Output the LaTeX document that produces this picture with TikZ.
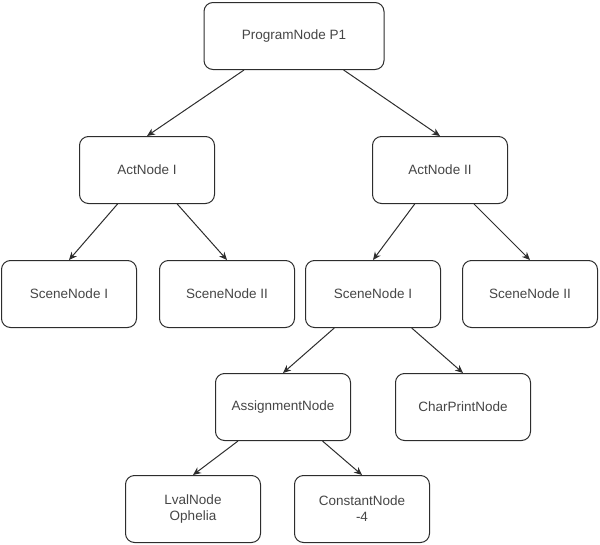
\documentclass[tikz,border=0pt]{standalone}
\usepackage{fontspec}
\setmainfont{Liberation Sans}
\usepackage{xcolor}
\usepackage{tikz}
\usetikzlibrary{arrows.meta, positioning}
\definecolor{astline}{RGB}{45, 45, 45}
\definecolor{asttext}{RGB}{70, 70, 70}

\begin{document}
\begin{tikzpicture}[
    x=1pt, y=1pt,
    astnode/.style={rectangle, rounded corners=9pt, draw=astline, fill=white, line width=1pt, minimum width=135pt, minimum height=67pt, align=center, text=asttext, font=\fontsize{13.5}{16}\selectfont},
    rootnode/.style={astnode, minimum width=180pt},
    arr/.style={-{Stealth[length=8pt, width=7pt]}, line width=1pt, draw=astline}
]
\useasboundingbox (0,0) rectangle (600,-544);

% Program
\node[rootnode] (prog) at (294,-36) {ProgramNode P1};

% Acts
\node[astnode, below=66pt of prog, xshift=-147pt] (act1) {ActNode I};
\node[astnode, below=66pt of prog, xshift=146pt] (act2) {ActNode II};

% Scenes
\node[astnode, below=56pt of act1, xshift=-78pt] (scene1) {SceneNode I};
\node[astnode, below=56pt of act1, xshift=80pt] (scene2) {SceneNode II};
\node[astnode, below=56pt of act2, xshift=-67pt] (scene3) {SceneNode I};
\node[astnode, below=56pt of act2, xshift=90pt] (scene4) {SceneNode II};

% Statements
\node[astnode, below=45pt of scene3, xshift=-90pt] (assign) {AssignmentNode};
\node[astnode, below=45pt of scene3, xshift=90pt] (charprint) {CharPrintNode};

% Operands
\node[astnode, below=34pt of assign, xshift=-90pt] (lval) {LvalNode\\Ophelia};
\node[astnode, below=34pt of assign, xshift=79pt] (const) {ConstantNode\\-4};

% Edges
\draw[arr] (prog) -- (act1.north);
\draw[arr] (prog) -- (act2.north);
\draw[arr] (act1) -- (scene1.north);
\draw[arr] (act1) -- (scene2.north);
\draw[arr] (act2) -- (scene3.north);
\draw[arr] (act2) -- (scene4.north);
\draw[arr] (scene3) -- (assign.north);
\draw[arr] (scene3) -- (charprint.north);
\draw[arr] (assign) -- (lval.north);
\draw[arr] (assign) -- (const.north);

\end{tikzpicture}
\end{document}
